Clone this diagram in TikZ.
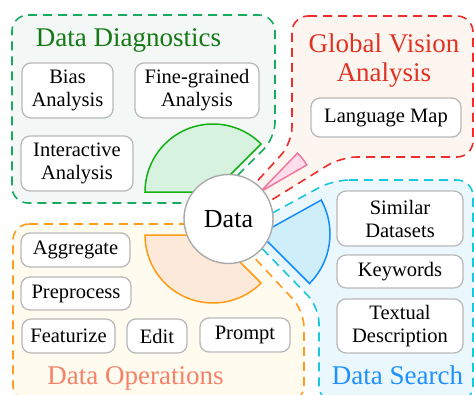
\documentclass[tikz,border=0pt]{standalone}
\usepackage{fontspec}
\setmainfont{Liberation Serif}
\definecolor{gborder}{RGB}{25,170,95}
\definecolor{gfill}{RGB}{243,248,246}
\definecolor{gtitle}{RGB}{20,120,20}
\definecolor{gsecdraw}{RGB}{20,175,20}
\definecolor{gsecfill}{RGB}{215,243,224}
\definecolor{rborder}{RGB}{240,45,45}
\definecolor{rfill}{RGB}{253,246,240}
\definecolor{rtitle}{RGB}{225,50,35}
\definecolor{psecdraw}{RGB}{240,120,160}
\definecolor{psecfill}{RGB}{253,222,234}
\definecolor{bborder}{RGB}{25,200,220}
\definecolor{bfill}{RGB}{234,247,253}
\definecolor{btitle}{RGB}{30,144,255}
\definecolor{bsecdraw}{RGB}{20,140,255}
\definecolor{bsecfill}{RGB}{206,238,250}
\definecolor{oborder}{RGB}{255,155,30}
\definecolor{ofill}{RGB}{255,251,238}
\definecolor{otitle}{RGB}{245,130,105}
\definecolor{osecdraw}{RGB}{255,155,20}
\definecolor{osecfill}{RGB}{253,233,218}
\definecolor{boxgray}{RGB}{185,185,185}
\definecolor{circgray}{RGB}{170,170,170}
\begin{document}
\begin{tikzpicture}[x=1pt,y=-1pt,
  region/.style={rounded corners=16pt, dash pattern=on 9pt off 6pt, line width=1.6pt},
  sector/.style={line width=1.5pt, line join=miter},
  item/.style={draw=boxgray, line width=1.3pt, rounded corners=9pt, fill=white,
    align=center, inner sep=0pt, font=\fontsize{20.5}{23}\selectfont},
  grptitle/.style={align=center, inner sep=0pt, font=\fontsize{27}{29}\selectfont},
]
\useasboundingbox (0,0) rectangle (474,394);
\clip (0,0) rectangle (474,394);

% regions
\path[region, draw=gborder, fill=gfill] (12,15) -- (275,15) -- (275,138) -- (210,203) -- (12,203) -- cycle;
\path[region, draw=rborder, fill=rfill] (292,16) -- (473,16) -- (473,157) -- (341,157) -- (199,245) -- (292,143) -- cycle;
\path[region, draw=bborder, fill=bfill] (333,180) -- (473,180) -- (473,402) -- (319,402) -- (319,307) -- (243,229) -- cycle;
\path[region, draw=oborder, fill=ofill] (13,224) -- (223,224) -- (304,311) -- (304,402) -- (13,402) -- cycle;

% sectors
\draw[sector, draw=gsecdraw, fill=gsecfill] (213,192) -- ++(45:68pt) arc[start angle=45, end angle=180, radius=68pt] -- cycle;
\draw[sector, draw=osecdraw, fill=osecfill] (213,235) -- ++(180:68pt) arc[start angle=180, end angle=315, radius=68pt] -- cycle;
\draw[sector, draw=bsecdraw, fill=bsecfill] (260,234) -- ++(-45:70pt) arc[start angle=-45, end angle=29, radius=70pt] -- cycle;
\draw[sector, draw=psecdraw, fill=psecfill] (260,192) -- ++(30:54pt) arc[start angle=30, end angle=46, radius=54pt] -- cycle;

% centre
\node[circle, draw=circgray, line width=1.4pt, fill=white, minimum size=89pt, inner sep=0pt,
  font=\fontsize{26}{29}\selectfont] (data) at (228.5,219) {Data};

% titles
\node[grptitle, text=gtitle, anchor=base] (tdiag) at (128.5,46) {Data Diagnostics};
\node[grptitle, text=rtitle] (tglob) at (384,61) {Global Vision\\Analysis};
\node[grptitle, text=btitle, anchor=base] (tsearch) at (397.5,384) {Data Search};
\node[grptitle, text=otitle, anchor=base] (toper) at (135.5,384) {Data Operations};

% boxes
\node[item, minimum width=91pt, minimum height=55pt] (bias) at (67.5,90.5) {Bias\\Analysis};
\node[item, minimum width=124pt, minimum height=55pt] (fine) at (197,90.5) {Fine-grained\\Analysis};
\node[item, minimum width=112pt, minimum height=55pt] (inter) at (77,163.5) {Interactive\\Analysis};
\node[item, minimum width=150pt, minimum height=39pt] (lang) at (386,117.5) {Language Map};
\node[item, minimum width=126pt, minimum height=55pt] (similar) at (400,218.5) {Similar\\Datasets};
\node[item, minimum width=126pt, minimum height=33pt] (keywords) at (400,271.5) {Keywords};
\node[item, minimum width=126pt, minimum height=54pt] (textual) at (400,326) {Textual\\Description};
\node[item, minimum width=109pt, minimum height=34pt] (aggregate) at (75.5,250) {Aggregate};
\node[item, minimum width=110pt, minimum height=33pt] (preprocess) at (76,293.5) {Preprocess};
\node[item, minimum width=93pt, minimum height=34pt] (featurize) at (68.5,336) {Featurize};
\node[item, minimum width=60pt, minimum height=34pt] (edit) at (157,336) {Edit};
\node[item, minimum width=90pt, minimum height=34pt] (prompt) at (245,335) {Prompt};
\end{tikzpicture}
\end{document}
